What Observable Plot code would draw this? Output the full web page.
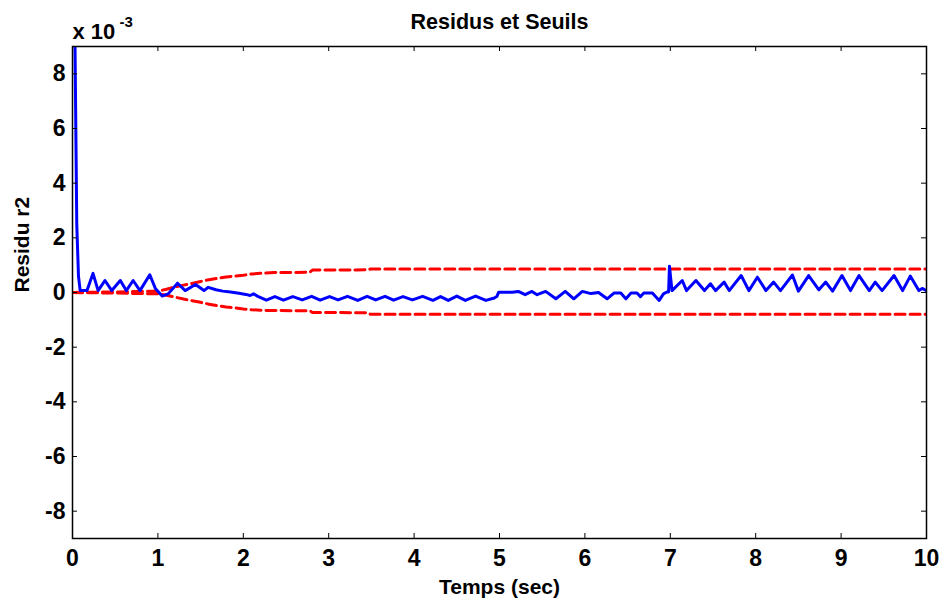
<!DOCTYPE html>
<html>
<head>
<meta charset="utf-8">
<script src="https://cdn.jsdelivr.net/npm/d3@7"></script>
<script src="https://cdn.jsdelivr.net/npm/@observablehq/plot@0.6"></script>
<style>
  html, body { margin: 0; padding: 0; background: #ffffff; }
  #chart { width: 941px; height: 606px; }
</style>
</head>
<body>
<div id="chart"></div>
<script>
// ---- data (values in units of 1e-3) ----
const residuTime = [
  0.02, 0.05, 0.07, 0.09, 0.17, 0.24, 0.30, 0.38, 0.46, 0.56, 0.63, 0.71, 0.79, 0.905, 0.97,
  1.05, 1.12, 1.23, 1.32, 1.44, 1.54, 1.59, 1.68, 1.76, 1.85, 1.95, 2.03, 2.08, 2.12,
  2.17, 2.27, 2.37, 2.47, 2.58, 2.69, 2.80, 2.90, 3.01, 3.11, 3.22, 3.34, 3.45, 3.55,
  3.66, 3.76, 3.87, 3.98, 4.10, 4.22, 4.31, 4.40, 4.50, 4.60, 4.72, 4.84, 4.94, 4.97,
  4.99, 5.15, 5.22, 5.30, 5.38, 5.44, 5.54, 5.66, 5.77, 5.87, 5.97, 6.07, 6.16, 6.26,
  6.34, 6.42, 6.48, 6.54, 6.61, 6.65, 6.69, 6.79, 6.87, 6.92, 6.96, 6.98, 6.99, 7.02,
  7.14, 7.19, 7.30, 7.40, 7.47, 7.53, 7.63, 7.69, 7.83, 7.92, 8.02, 8.12, 8.21, 8.29,
  8.43, 8.50, 8.62, 8.74, 8.82, 8.90, 9.01, 9.11, 9.21, 9.33, 9.40, 9.48, 9.62, 9.72,
  9.81, 9.91, 9.95, 10.0
];
const residuValue = [
  12, 2.5, 0.6, 0.07, 0.07, 0.7, 0.07, 0.44, 0.07, 0.44, 0.07, 0.44, 0.07, 0.65, 0.15,
  -0.13, -0.05, 0.34, 0.07, 0.29, 0.07, 0.19, 0.1, 0.05, 0.02, -0.03, -0.07, -0.11, -0.05,
  -0.14, -0.28, -0.15, -0.28, -0.15, -0.27, -0.14, -0.28, -0.15, -0.27, -0.14, -0.29, -0.14, -0.27,
  -0.14, -0.28, -0.15, -0.27, -0.14, -0.29, -0.15, -0.29, -0.13, -0.29, -0.13, -0.29, -0.2, -0.14,
  0.01, 0.01, 0.04, -0.08, 0.04, -0.08, 0.04, -0.23, 0.04, -0.23, 0.04, -0.04, 0.0, -0.23,
  -0.02, -0.02, -0.23, -0.02, -0.02, -0.15, -0.02, -0.02, -0.29, -0.05, 0.02, 0.02, 0.96, 0.07,
  0.44, 0.07, 0.44, 0.07, 0.32, 0.07, 0.38, 0.07, 0.62, 0.07, 0.56, 0.07, 0.38, 0.07,
  0.64, 0.05, 0.62, 0.1, 0.38, 0.05, 0.62, 0.07, 0.62, 0.07, 0.38, 0.07, 0.62, 0.07,
  0.6, 0.07, 0.15, 0.07
];

const seuilTime  = [0, 0.5, 1.0, 1.1, 1.2, 1.3, 1.4, 1.5, 1.6, 1.7, 1.8, 1.9, 2.0, 2.1, 2.2, 2.36, 2.78, 2.81, 3.46, 3.49, 10];
const seuilHaut  = [0, 0.02, 0.05, 0.12, 0.2, 0.27, 0.33, 0.4, 0.47, 0.52, 0.57, 0.6, 0.63, 0.68, 0.7, 0.73, 0.74, 0.82, 0.83, 0.86, 0.86];
const seuilBas   = [0, -0.02, -0.05, -0.1, -0.17, -0.24, -0.3, -0.36, -0.43, -0.48, -0.53, -0.56, -0.6, -0.63, -0.65, -0.66, -0.67, -0.73, -0.74, -0.8, -0.8];

const xTicks = [0, 1, 2, 3, 4, 5, 6, 7, 8, 9, 10];
const yTicks = [-8, -6, -4, -2, 0, 2, 4, 6, 8];

const titleText = "Residus et Seuils";
const xLabel = "Temps (sec)";
const yLabel = "Residu r2";
const scaleText = "x 10";
const scaleExp = "-3";

// ---- build tables ----
const residu = residuTime.map((t, i) => ({t, v: residuValue[i]}));
const haut = seuilTime.map((t, i) => ({t, v: seuilHaut[i]}));
const bas = seuilTime.map((t, i) => ({t, v: seuilBas[i]}));

const W = 941, H = 606;
const mL = 72, mR = 15, mT = 46, mB = 68;
const plotW = W - mL - mR, plotH = H - mT - mB;
const tickLen = 5;
const font = "'Liberation Sans', Arial, Helvetica, sans-serif";

const chart = Plot.plot({
  width: W,
  height: H,
  marginLeft: mL, marginRight: mR, marginTop: mT, marginBottom: mB,
  style: {fontFamily: font, fontWeight: "bold", fontSize: "23px", background: "#ffffff", color: "#000"},
  x: {domain: [0, 10]},
  y: {domain: [-9, 9]},
  marks: [
    // threshold dashed lines
    Plot.line(haut, {x: "t", y: "v", stroke: "#ff0000", strokeWidth: 3, strokeDasharray: "10,5", clip: true}),
    Plot.line(bas, {x: "t", y: "v", stroke: "#ff0000", strokeWidth: 3, strokeDasharray: "10,5", clip: true}),
    // residual
    Plot.line(residu, {x: "t", y: "v", stroke: "#0000ff", strokeWidth: 3, clip: true, strokeLinejoin: "round"}),
    // inward ticks (box)
    Plot.tickX(xTicks, {x: d => d, stroke: "#000", strokeWidth: 1, insetTop: plotH - tickLen}),
    Plot.tickX(xTicks, {x: d => d, stroke: "#000", strokeWidth: 1, insetBottom: plotH - tickLen}),
    Plot.tickY(yTicks, {y: d => d, stroke: "#000", strokeWidth: 1, insetRight: plotW - tickLen}),
    Plot.tickY(yTicks, {y: d => d, stroke: "#000", strokeWidth: 1, insetLeft: plotW - tickLen}),
    Plot.frame({stroke: "#000", strokeWidth: 1.5}),
    // tick labels
    Plot.axisX({ticks: xTicks, tickSize: 0, tickPadding: 11, label: null, tickFormat: d => String(d), fontSize: 23}),
    Plot.axisY({ticks: yTicks, tickSize: 0, tickPadding: 7, label: null, tickFormat: d => String(d), fontSize: 23}),
    // title & labels
    Plot.text([titleText], {text: d => d, frameAnchor: "top", dy: -24, lineAnchor: "middle", fontSize: 21.5, fontWeight: "bold"}),
    Plot.text([xLabel], {text: d => d, frameAnchor: "bottom", dy: 49, lineAnchor: "middle", fontSize: 21, fontWeight: "bold"}),
    Plot.text([yLabel], {text: d => d, frameAnchor: "left", dx: -50, rotate: -90, lineAnchor: "middle", fontSize: 21, fontWeight: "bold"}),
    Plot.text([scaleText], {text: d => d, frameAnchor: "top-left", textAnchor: "start", lineAnchor: "bottom", dy: -8, dx: 0, fontSize: 22, fontWeight: "bold"}),
    Plot.text([scaleExp], {text: d => d, frameAnchor: "top-left", textAnchor: "start", lineAnchor: "bottom", dy: -20, dx: 47, fontSize: 15, fontWeight: "bold"})
  ]
});
document.getElementById("chart").appendChild(chart);
</script>
</body>
</html>
